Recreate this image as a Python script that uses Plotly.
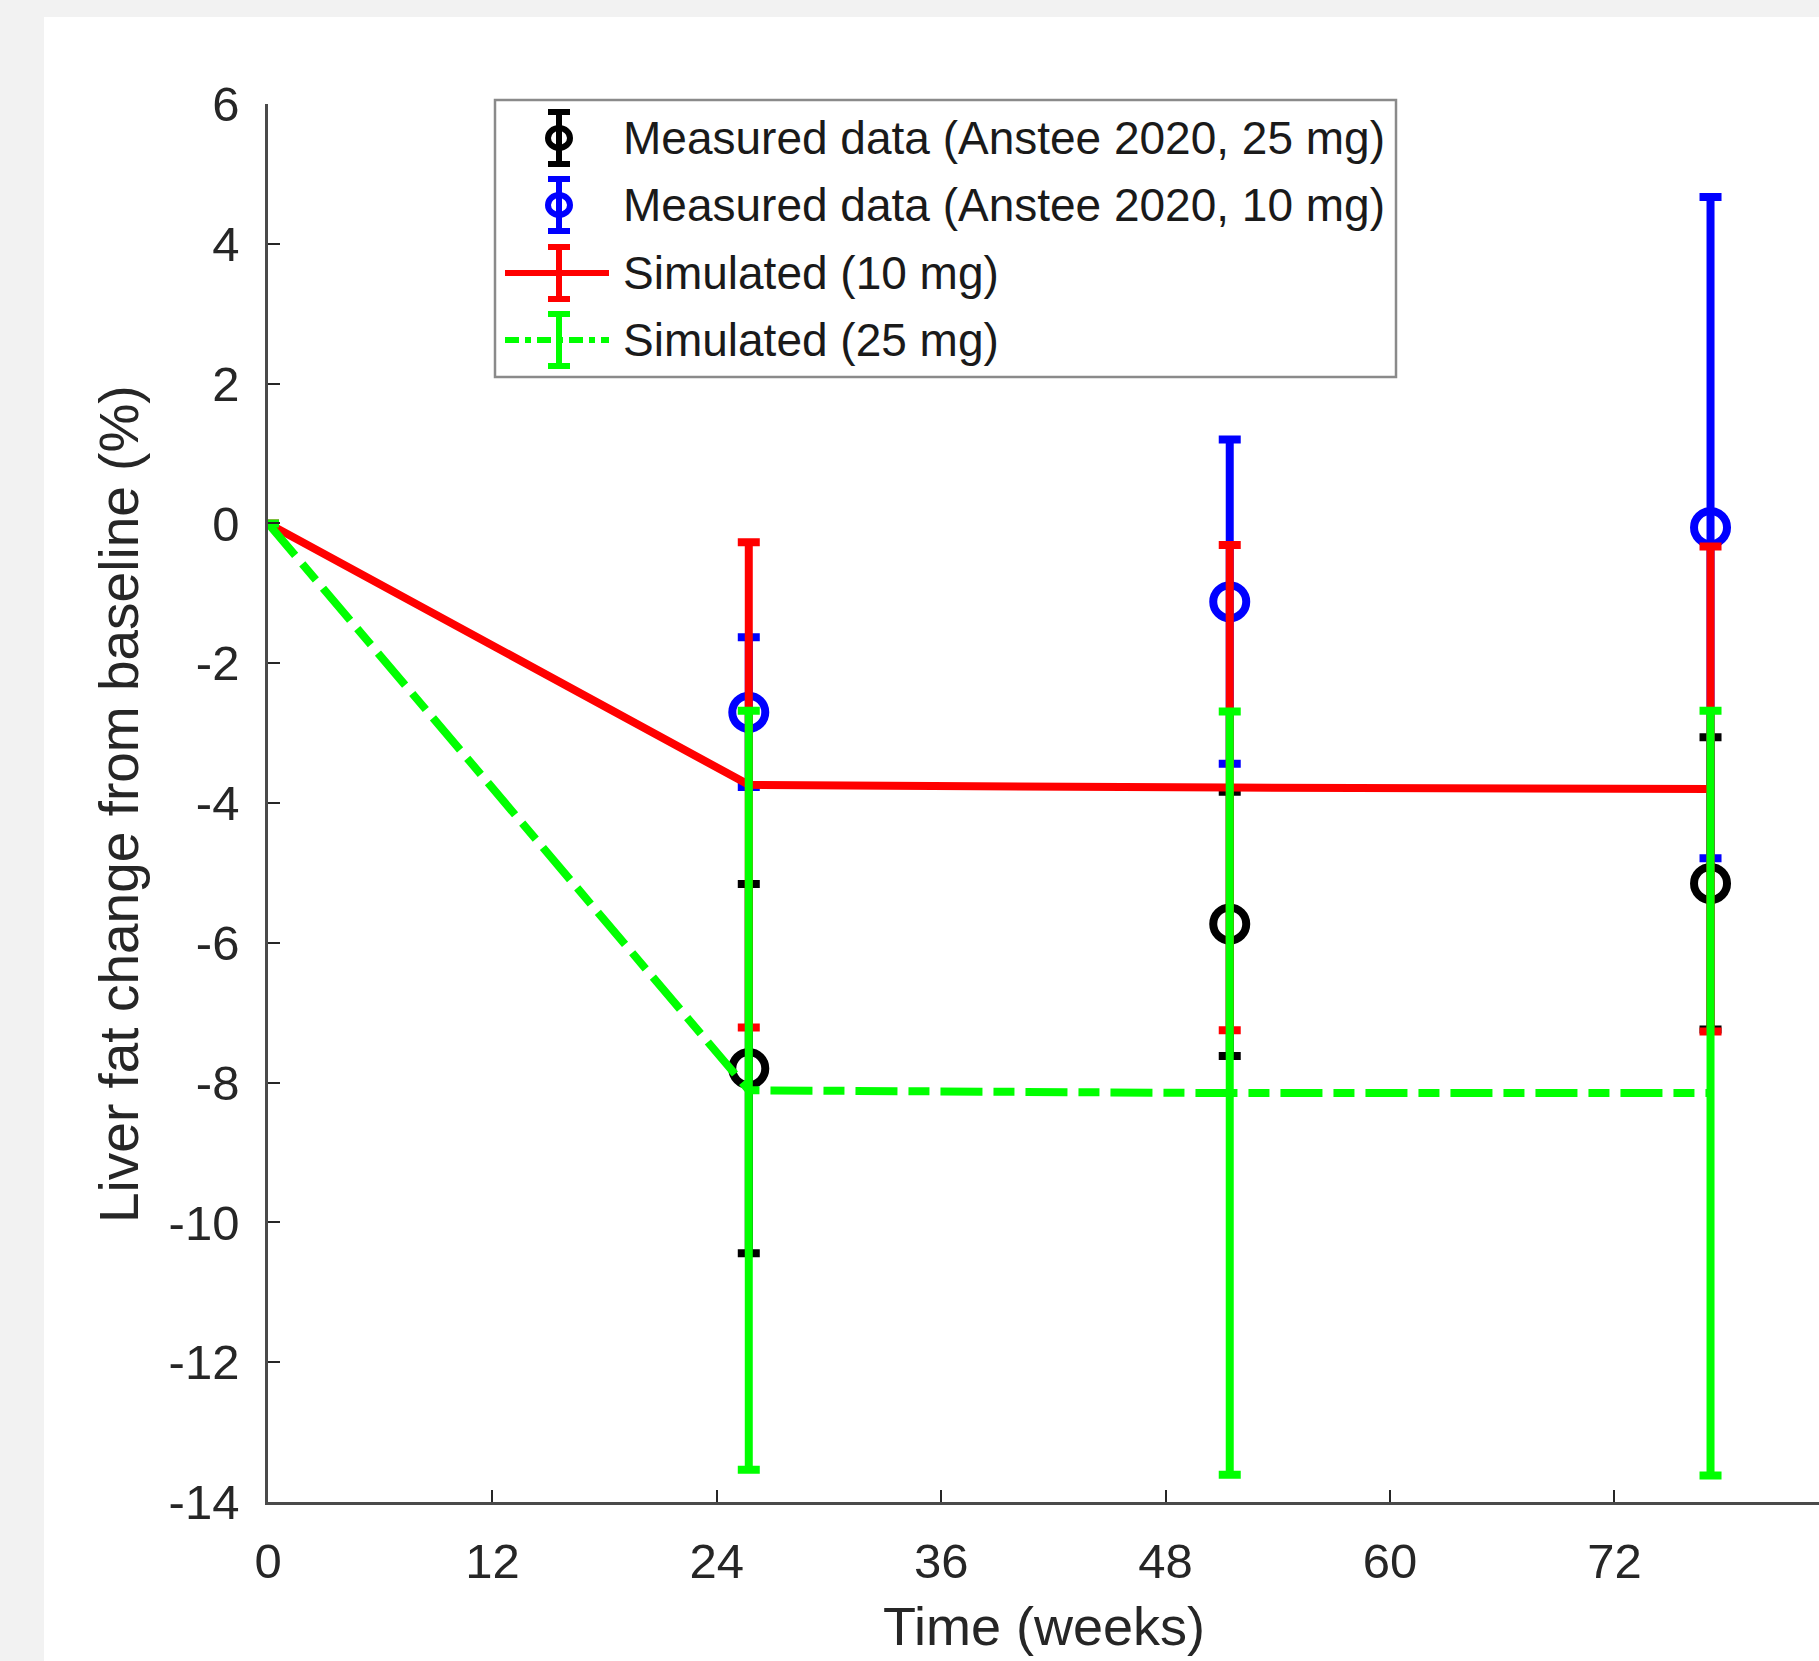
import plotly.graph_objects as go

# ---------------- data ----------------
meas_weeks = [25.71, 51.43, 77.14]
meas25_mean = [-7.80, -5.73, -5.15]
meas25_err = [2.64, 1.89, 2.09]
meas10_mean = [-2.70, -1.12, -0.06]
meas10_err = [1.07, 2.32, 4.73]

sim_weeks = [0, 25.71, 51.43, 77.14]
sim10_mean = [0, -3.74, -3.78, -3.80]
sim10_err = [None, 3.47, 3.47, 3.47]
sim25_mean = [0, -8.11, -8.15, -8.15]
sim25_err = [None, 5.43, 5.46, 5.47]

x_ticks = [0, 12, 24, 36, 48, 60, 72]
y_ticks = [6, 4, 2, 0, -2, -4, -6, -8, -10, -12, -14]

legend_labels = [
    "Measured data (Anstee 2020, 25 mg)",
    "Measured data (Anstee 2020, 10 mg)",
    "Simulated (10 mg)",
    "Simulated (25 mg)",
]
legend_colors = ["#000000", "#0000ff", "#ff0000", "#00ff00"]

# ---------------- geometry ----------------
W, H = 1819, 1661
L, R, T, B = 268, 0, 104, 159
PW = W - L - R
PH = H - T - B
FONT = "Liberation Sans, Arial, sans-serif"
AX = "#262626"


def px(xp):
    return (xp - L) / PW


def py(yp):
    return (H - B - yp) / PH


fig = go.Figure()

fig.add_trace(go.Scatter(
    x=meas_weeks, y=meas25_mean, mode="markers", name=legend_labels[0],
    marker=dict(symbol="circle-open", size=33, color="#000000", line=dict(width=8, color="#000000")),
    error_y=dict(type="data", array=meas25_err, color="#000000", thickness=8, width=11),
    showlegend=False,
))
fig.add_trace(go.Scatter(
    x=meas_weeks, y=meas10_mean, mode="markers", name=legend_labels[1],
    marker=dict(symbol="circle-open", size=33, color="#0000ff", line=dict(width=8, color="#0000ff")),
    error_y=dict(type="data", array=meas10_err, color="#0000ff", thickness=8, width=11),
    showlegend=False,
))
fig.add_trace(go.Scatter(
    x=sim_weeks, y=sim10_mean, mode="lines", name=legend_labels[2],
    line=dict(color="#ff0000", width=8),
    error_y=dict(type="data", array=sim10_err, color="#ff0000", thickness=8, width=11),
    showlegend=False,
))
fig.add_trace(go.Scatter(
    x=sim_weeks, y=sim25_mean, mode="lines", name=legend_labels[3],
    line=dict(color="#00ff00", width=8, dash="42px,11px,21px,11px"),
    error_y=dict(type="data", array=sim25_err, color="#00ff00", thickness=8, width=11),
    showlegend=False,
))

shapes = []
annotations = []

# white panel over gray page
shapes.append(dict(type="rect", xref="paper", yref="paper", layer="below",
                   x0=px(44), x1=px(W + 5), y0=py(H + 5), y1=py(17),
                   fillcolor="#ffffff", line=dict(width=0)))

# custom legend
shapes.append(dict(type="rect", xref="paper", yref="paper",
                   x0=px(495), x1=px(1396), y0=py(377), y1=py(100),
                   fillcolor="#ffffff", line=dict(color="#8a8a8a", width=2.5)))
row_c = [138, 205, 273, 340]
sx = 559
for i, (lab, col) in enumerate(zip(legend_labels, legend_colors)):
    yc = row_c[i]
    if i >= 2:
        shapes.append(dict(type="line", xref="paper", yref="paper",
                           x0=px(505), x1=px(609), y0=py(yc), y1=py(yc),
                           line=dict(color=col, width=6,
                                     dash="solid" if i == 2 else "14px,6px,6px,6px")))
    shapes.append(dict(type="line", xref="paper", yref="paper",
                       x0=px(sx), x1=px(sx), y0=py(yc - 26), y1=py(yc + 26),
                       line=dict(color=col, width=6)))
    for yy in (yc - 26, yc + 26):
        shapes.append(dict(type="line", xref="paper", yref="paper",
                           x0=px(sx - 11), x1=px(sx + 11), y0=py(yy), y1=py(yy),
                           line=dict(color=col, width=6)))
    if i < 2:
        shapes.append(dict(type="circle", xref="paper", yref="paper",
                           x0=px(sx - 11), x1=px(sx + 11), y0=py(yc - 10), y1=py(yc + 10),
                           line=dict(color=col, width=6)))
    annotations.append(dict(xref="paper", yref="paper", x=px(621), y=py(yc),
                            xanchor="left", yanchor="middle", showarrow=False,
                            text=lab, font=dict(family=FONT, size=46, color="#1a1a1a")))

# axis titles
annotations.append(dict(xref="paper", yref="paper", x=0.5, y=py(1626),
                        xanchor="center", yanchor="middle", showarrow=False,
                        text="Time (weeks)", font=dict(family=FONT, size=54, color=AX)))
annotations.append(dict(xref="paper", yref="paper", x=px(119), y=py(804),
                        xanchor="center", yanchor="middle", showarrow=False, textangle=-90,
                        text="Liver fat change from baseline (%)",
                        font=dict(family=FONT, size=55, color=AX)))

fig.update_layout(
    width=W, height=H,
    margin=dict(l=L, r=R, t=T, b=B, pad=0),
    paper_bgcolor="#f2f2f2", plot_bgcolor="rgba(0,0,0,0)",
    shapes=shapes, annotations=annotations, showlegend=False,
    xaxis=dict(range=[0, PW / (224.4 / 12)], tickmode="array", tickvals=x_ticks,
               ticktext=[str(v) for v in x_ticks],
               ticks="inside", ticklen=12, tickwidth=2, tickcolor=AX,
               showline=True, linecolor="#4a4a4a", linewidth=2.5, mirror=False,
               showgrid=False, zeroline=False, ticklabelstandoff=14,
               tickfont=dict(family=FONT, size=49, color=AX), automargin=False),
    yaxis=dict(range=[-14, 6], tickmode="array", tickvals=y_ticks,
               ticktext=[str(v) for v in y_ticks],
               ticks="inside", ticklen=12, tickwidth=2, tickcolor=AX,
               showline=True, linecolor="#4a4a4a", linewidth=2.5, mirror=False,
               showgrid=False, zeroline=False, ticklabelstandoff=16,
               tickfont=dict(family=FONT, size=49, color=AX), automargin=False),
)

fig.write_html("out.html")
